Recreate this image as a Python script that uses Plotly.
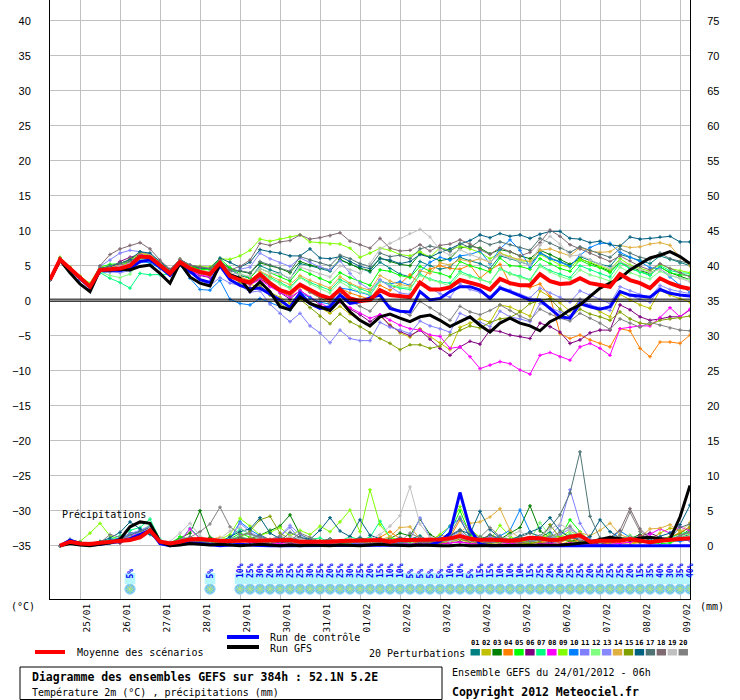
import plotly.graph_objects as go

# 6-hourly steps from 24/01 06h to 09/02 06h
hours = list(range(0, 385, 6))
day_hours = [18, 42, 66, 90, 114, 138, 162, 186, 210, 234, 258, 282, 306, 330, 354, 378]
day_labels = ['25/01', '26/01', '27/01', '28/01', '29/01', '30/01', '31/01', '01/02',
              '02/02', '03/02', '04/02', '05/02', '06/02', '07/02', '08/02', '09/02']

# temperature 2m (degC)
mean_t = [3.0, 5.9, 4.6, 3.3, 2.0, 4.4, 4.5, 4.6, 5.0, 6.3, 6.2, 5.1, 3.9, 5.5, 4.6, 4.1, 3.8, 5.4, 3.5,
          2.95, 2.6, 3.8, 2.5, 1.5, 1.05, 2.3, 1.5, 0.8, 0.33, 1.6, 0.33, -0.05, 0.1, 1.5, 0.8, 0.67, 0.5,
          2.6, 1.6, 1.6, 1.9, 2.95, 2.6, 2.2, 1.6, 3.1, 2.5, 2.2, 2.2, 3.8, 2.8, 2.4, 2.5, 3.2, 2.5, 2.2,
          2.0, 3.8, 2.95, 2.5, 1.8, 3.2, 2.5, 2.0, 1.7]
ctrl_t = [3.0, 5.8, 4.5, 3.2, 1.9, 4.3, 4.4, 4.3, 4.6, 5.6, 5.8, 4.8, 3.6, 5.2, 4.2, 3.0, 2.6, 5.0, 3.0,
          2.2, 1.7, 1.8, 1.0, 0.1, -0.95, 1.1, -0.4, -1.1, -0.86, 0.8, -0.4, -0.15, 0.4, 0.8, -1.1, -1.5,
          -1.6, 1.3, 0.1, 0.33, 1.3, 2.0, 2.0, 1.5, 0.33, 1.8, 1.3, 0.67, 0.1, 0.1, -1.1, -2.3, -2.5, -0.4,
          -0.86, -1.2, -0.86, 1.3, 0.8, 0.67, 0.5, 1.6, 1.05, 0.8, 0.67]
gfs_t = [3.0, 5.8, 4.0, 2.4, 1.3, 4.4, 4.4, 4.5, 4.4, 4.9, 5.1, 3.9, 2.5, 5.4, 3.4, 2.5, 2.1, 5.3, 3.7,
         3.2, 1.3, 2.7, 1.3, -0.86, -1.3, 0.57, -0.4, -0.95, -1.4, 0.1, -1.6, -2.8, -3.6, -2.3, -1.9, -2.5,
         -3.0, -2.3, -2.05, -2.8, -3.7, -3.0, -2.3, -3.5, -4.5, -3.2, -2.5, -3.2, -3.6, -4.3, -3.0, -2.3,
         -1.3, -0.6, 0.57, 1.8, 2.5, 3.2, 4.4, 5.3, 6.1, 6.5, 7.0, 6.3, 5.3]

t01 = [3.0, 6.0, 4.7, 3.4, 2.1, 4.5, 4.8, 5.0, 5.6, 6.6, 6.3, 5.0, 4.0, 5.6, 4.8, 4.3, 4.0, 5.5, 4.5,
       3.6, 3.2, 5.0, 4.4, 3.9, 3.1, 5.3, 5.0, 4.6, 4.2, 5.8, 5.2, 4.7, 4.1, 5.5, 4.6, 3.8, 3.4, 5.6, 5.0,
       4.5, 4.8, 6.2, 5.7, 5.3, 4.6, 6.4, 6.0, 5.5, 5.1, 6.9, 6.1, 5.6, 5.0, 6.3, 5.8, 5.2, 4.9, 6.6, 6.2,
       5.8, 5.3, 6.4, 5.9, 5.4, 5.0]
t02 = [3.0, 5.8, 4.5, 3.2, 1.9, 4.2, 4.4, 4.8, 5.3, 6.8, 6.5, 5.3, 4.1, 5.8, 4.9, 4.4, 4.1, 5.9, 4.0,
       3.0, 2.4, 1.9, 1.2, 0.5, -0.4, 0.6, -0.3, -1.0, -1.8, -0.8, -1.9, -2.8, -3.6, -2.2, -3.4, -4.6,
       -5.2, -4.0, -5.1, -6.0, -7.0, -3.8, -3.2, -2.6, -3.1, -0.6, -0.9, -1.5, -2.2, 1.4, 0.6, -0.3, -1.5,
       0.2, -0.8, -1.6, -2.3, 0.9, 0.1, -0.6, -1.1, 1.5, 0.8, 0.3, -0.2]
t03 = [3.0, 5.9, 4.6, 3.3, 2.2, 4.6, 4.9, 5.4, 5.8, 6.9, 6.6, 5.5, 4.4, 5.7, 5.0, 4.6, 4.5, 5.6, 4.6,
       4.2, 3.9, 5.4, 5.0, 4.6, 4.0, 5.6, 5.1, 4.7, 4.4, 5.9, 5.3, 4.6, 4.3, 6.1, 5.6, 5.2, 5.0, 6.7, 6.3,
       5.7, 6.0, 7.5, 7.8, 7.5, 6.7, 7.3, 7.0, 6.4, 6.0, 7.2, 6.6, 5.9, 5.2, 6.0, 5.4, 4.8, 4.2, 5.5, 4.9,
       4.3, 3.9, 4.8, 4.0, 3.5, 3.0]
t04 = [3.0, 6.1, 4.8, 3.5, 2.3, 4.5, 4.2, 4.4, 5.1, 6.5, 6.4, 5.2, 4.2, 5.9, 4.7, 4.0, 3.7, 5.2, 3.6,
       2.7, 2.3, 3.1, 2.2, 1.4, 0.6, 2.0, 1.2, 0.4, -0.2, 1.8, 1.1, 0.6, 0.2, 2.2, 1.5, 2.4, 3.7, 2.4, 4.5,
       5.0, 4.6, 4.5, 5.1, 3.2, 4.4, 5.2, 2.4, 2.2, 1.9, 2.4, 0.6, -4.7, -5.4, -4.9, -5.6, -6.1, -6.6,
       -4.0, -4.3, -6.8, -8.0, -5.9, -5.9, -6.1, -4.9]
t05 = [3.0, 6.0, 4.6, 3.3, 2.0, 4.8, 5.2, 5.3, 5.5, 6.1, 5.9, 5.0, 4.1, 5.6, 4.9, 4.5, 4.4, 6.0, 4.7,
       3.8, 3.3, 4.6, 4.0, 3.5, 2.8, 4.5, 3.8, 3.2, 2.6, 4.0, 3.3, 2.7, 2.2, 4.4, 4.2, 3.6, 3.3, 4.9, 4.2,
       3.9, 3.4, 5.6, 5.0, 4.6, 4.1, 6.1, 5.0, 4.9, 4.5, 6.0, 5.3, 4.6, 4.2, 5.8, 5.1, 4.7, 4.0, 5.5, 4.6,
       4.1, 3.7, 4.8, 4.0, 3.7, 3.6]
t06 = [3.0, 5.9, 4.5, 3.1, 1.8, 4.4, 4.6, 5.6, 6.2, 6.6, 6.1, 5.0, 3.8, 5.3, 4.3, 3.6, 3.3, 5.3, 3.4,
       3.0, 2.4, 3.2, 2.2, 1.1, 0.2, 1.5, 0.4, -0.6, -1.4, 0.1, -1.2, -2.0, -3.0, -2.0, -3.6, -4.4, -5.0,
       -4.2, -5.5, -6.8, -7.8, -6.6, -5.8, -6.2, -4.2, -4.4, -4.9, -5.1, -5.4, -3.2, -3.7, -4.5, -6.1,
       -5.6, -4.6, -4.2, -4.2, -0.6, -1.3, -2.3, -2.8, -2.6, -2.3, -2.3, -1.3]
t07 = [3.0, 5.8, 4.6, 3.2, 2.1, 4.0, 3.2, 2.6, 1.8, 3.9, 3.7, 3.7, 3.8, 5.3, 4.4, 4.1, 3.9, 5.0, 3.2,
       3.1, 2.8, 4.1, 3.3, 2.6, 1.9, 3.4, 2.6, 2.0, 1.5, 3.0, 2.3, 1.7, 1.2, 2.9, 2.2, 1.8, 1.6, 3.8, 3.1,
       2.7, 2.5, 4.2, 3.6, 3.1, 2.6, 4.6, 3.9, 3.5, 3.0, 5.1, 4.3, 3.8, 3.3, 5.0, 4.4, 3.9, 3.4, 5.4, 4.6,
       4.1, 3.6, 5.0, 4.3, 4.0, 3.9]
t08 = [3.0, 6.0, 4.7, 3.4, 2.0, 4.3, 4.5, 5.0, 5.4, 6.6, 6.3, 5.2, 4.0, 5.5, 4.2, 3.7, 3.4, 5.5, 3.4,
       2.8, 2.3, 3.0, 2.0, 1.2, 0.5, 1.4, 0.5, -0.3, -1.1, -0.2, -1.0, -1.8, -2.5, -2.0, -2.8, -3.5, -4.0,
       -4.2, -4.9, -5.1, -6.8, -6.6, -8.0, -9.7, -9.2, -8.7, -9.0, -9.9, -10.5, -7.8, -7.4, -8.0, -8.5,
       -6.6, -6.1, -6.8, -7.8, -4.0, -3.8, -3.6, -3.6, -2.4, -1.0, -2.3, -1.2]
t09 = [3.0, 6.2, 4.8, 3.5, 2.5, 4.9, 4.6, 4.8, 5.7, 6.9, 6.4, 5.3, 4.2, 5.9, 5.0, 4.9, 4.8, 6.0, 5.9,
       6.4, 7.2, 8.8, 8.5, 8.8, 9.1, 9.4, 8.4, 8.3, 8.1, 8.1, 7.5, 6.2, 6.8, 7.5, 7.2, 6.6, 6.4, 7.0, 6.2,
       7.6, 7.2, 7.8, 7.4, 6.9, 6.0, 6.8, 6.3, 5.7, 5.6, 6.6, 5.9, 5.1, 4.8, 5.9, 5.5, 4.9, 4.4, 6.0, 5.1,
       4.6, 4.2, 5.2, 4.6, 4.3, 4.0]
t10 = [3.0, 5.7, 4.3, 3.0, 1.7, 4.0, 4.1, 4.2, 4.4, 5.6, 5.4, 4.6, 3.8, 5.1, 3.2, 1.6, 1.5, 2.9, 0.2,
       -0.4, -0.6, 0.3, -0.3, -0.9, -1.4, 1.2, 0.4, -0.2, -0.5, 1.8, 1.6, 1.2, 0.8, 2.8, 2.4, 2.7, 2.2,
       4.2, 5.5, 6.2, 5.8, 6.4, 6.6, 7.1, 5.3, 7.4, 8.7, 7.2, 4.8, 6.8, 6.0, 5.5, 4.9, 6.5, 7.6, 8.2, 8.2,
       6.9, 6.2, 5.6, 4.7, 4.6, 3.4, 2.2, 1.2]
t11 = [3.0, 6.0, 4.6, 3.3, 2.1, 4.9, 5.8, 6.8, 7.2, 7.0, 6.6, 5.4, 4.2, 5.7, 4.0, 3.0, 2.2, 3.3, 2.5,
       2.2, 1.2, 1.4, -0.5, -1.8, -3.0, -1.8, -3.6, -4.6, -6.0, -4.2, -5.4, -5.7, -5.7, -3.1, -3.8, -4.2,
       -4.7, -2.9, -3.6, -4.0, -4.5, -1.8, -2.4, -3.1, -3.7, -1.5, -2.3, -2.6, -3.0, -0.4, -1.0, -1.6,
       -2.2, 0.2, -0.6, -1.0, -1.4, 1.3, 0.7, 0.2, -0.2, 1.8, 1.2, 0.8, 0.6]
t12 = [3.0, 5.9, 4.5, 3.2, 2.0, 4.1, 3.6, 3.3, 3.8, 5.9, 6.0, 5.0, 3.9, 5.4, 4.5, 4.2, 4.0, 5.4, 3.8,
       3.3, 2.8, 3.9, 3.1, 2.4, 1.7, 3.3, 2.4, 1.8, 1.1, 2.7, 1.9, 1.3, 0.9, 2.8, 2.3, 2.0, 1.8, 3.6, 3.0,
       2.6, 2.1, 3.9, 3.4, 3.0, 2.6, 4.5, 3.8, 3.3, 2.9, 4.9, 4.1, 3.5, 3.0, 4.4, 3.7, 3.3, 2.8, 4.8, 4.0,
       3.5, 3.1, 4.2, 3.6, 3.2, 3.0]
t13 = [3.0, 5.8, 4.4, 3.1, 1.8, 4.2, 4.1, 4.0, 4.3, 5.5, 5.8, 4.9, 3.6, 5.2, 4.4, 3.9, 3.6, 5.1, 3.3,
       4.5, 4.8, 6.8, 6.0, 5.4, 4.9, 6.1, 5.5, 4.8, 4.4, 5.7, 3.9, 2.5, 1.6, 3.0, 2.0, 1.1, 0.9, 2.4, 1.8,
       1.0, 0.5, 2.4, 1.6, 1.2, 0.6, 2.0, 1.5, 0.9, 0.4, 1.8, 1.1, 0.5, -0.2, 1.4, 0.8, 0.2, -0.4, 2.0,
       1.4, 0.9, 0.5, 2.2, 1.6, 1.3, 1.0]
t14 = [3.0, 6.0, 4.6, 3.3, 2.0, 4.5, 4.7, 5.2, 6.0, 6.8, 6.6, 5.5, 4.3, 5.8, 4.8, 4.2, 3.9, 5.6, 3.7,
       3.4, 2.9, 4.2, 3.5, 2.9, 2.3, 3.6, 2.9, 2.3, 1.8, 3.4, 2.5, 1.9, 1.5, 3.6, 2.8, 2.3, 2.1, 4.3, 3.9,
       5.4, 5.1, 5.9, 5.6, 6.0, 5.5, 6.8, 6.2, 5.9, 5.6, 7.2, 7.4, 6.9, 6.4, 7.6, 7.1, 6.9, 7.0, 7.9, 7.6,
       7.7, 8.1, 8.3, 7.9, 6.2, 5.0]
t15 = [3.0, 5.9, 4.6, 3.2, 1.9, 4.3, 4.3, 4.6, 5.2, 6.4, 6.2, 5.1, 3.9, 5.5, 4.5, 3.9, 3.6, 5.2, 3.5,
       2.6, 1.8, 2.2, 0.8, -0.4, -1.3, 0.2, -1.0, -2.2, -3.3, -1.9, -3.0, -3.7, -4.6, -5.4, -6.1, -7.0,
       -6.3, -6.3, -6.8, -6.5, -4.9, -4.2, -3.6, -3.9, -3.1, -2.6, -2.4, -1.6, -0.4, 0.0, 0.3, -1.2, -2.4,
       -1.2, -1.9, -2.3, -2.8, -1.6, -2.6, -3.2, -3.4, -2.8, -2.6, -2.5, -2.2]
t16 = [3.0, 6.0, 4.7, 3.3, 2.0, 4.6, 4.9, 5.3, 5.9, 7.0, 6.8, 5.6, 4.4, 5.9, 5.1, 4.7, 4.6, 6.1, 5.5,
       4.8, 5.5, 7.3, 7.0, 6.8, 6.4, 6.4, 7.4, 6.1, 6.0, 6.3, 5.6, 4.9, 4.6, 6.0, 5.8, 5.3, 5.6, 6.6, 6.2,
       6.9, 7.4, 8.1, 8.6, 9.4, 9.0, 9.6, 9.2, 9.4, 8.9, 9.5, 9.9, 9.9, 8.9, 8.8, 8.3, 8.5, 8.0, 7.8, 9.1,
       8.8, 8.9, 9.1, 9.2, 8.4, 8.4]
t17 = [3.0, 6.0, 4.6, 3.3, 2.0, 4.5, 5.0, 5.4, 5.6, 6.5, 6.2, 5.2, 4.0, 5.6, 4.6, 4.1, 3.9, 5.4, 4.2,
       4.3, 4.0, 5.6, 5.1, 4.6, 4.2, 6.3, 5.8, 5.4, 5.0, 6.5, 6.0, 5.3, 4.9, 6.8, 6.3, 6.5, 6.0, 7.4, 7.8,
       7.5, 7.0, 8.2, 7.6, 8.6, 8.0, 8.4, 8.0, 7.6, 7.2, 8.9, 8.2, 7.5, 6.9, 7.7, 7.2, 6.6, 6.2, 7.4, 6.8,
       6.2, 5.9, 6.8, 6.0, 5.6, 5.3]
t18 = [3.0, 6.1, 4.7, 3.4, 2.2, 5.0, 6.6, 7.4, 7.9, 8.3, 7.4, 5.8, 4.5, 5.9, 5.1, 4.8, 4.6, 5.7, 4.4,
       4.9, 5.8, 8.2, 7.9, 8.4, 8.6, 9.4, 8.8, 9.0, 9.3, 9.7, 8.5, 8.0, 7.5, 8.9, 7.5, 7.1, 7.2, 8.0, 7.1,
       7.9, 8.1, 8.7, 8.1, 7.3, 6.6, 7.6, 7.0, 6.4, 6.9, 8.3, 10.1, 9.2, 8.0, 7.4, 6.8, 6.2, 5.6, 6.4,
       5.7, 4.9, 4.4, 5.3, 4.6, 4.0, 3.4]
t19 = [3.0, 5.9, 4.5, 3.2, 1.9, 4.4, 4.6, 4.9, 5.3, 6.4, 6.4, 5.3, 4.0, 5.6, 4.7, 4.3, 4.1, 5.6, 4.0,
       3.8, 3.5, 4.6, 4.0, 3.8, 3.2, 4.8, 4.3, 3.8, 3.4, 5.0, 4.4, 3.9, 5.3, 7.4, 8.2, 8.9, 9.6, 10.2,
       9.1, 7.2, 6.5, 7.3, 6.6, 6.1, 5.6, 6.6, 6.1, 5.6, 5.1, 7.9, 9.2, 8.1, 6.4, 6.5, 5.8, 5.2, 4.6, 5.6,
       4.9, 4.4, 4.0, 4.5, 3.7, 3.2, 2.7]
t20 = [3.0, 5.8, 4.5, 3.2, 1.9, 4.2, 4.3, 4.5, 5.0, 6.2, 6.3, 5.4, 4.2, 5.8, 4.6, 4.2, 3.9, 5.6, 3.7,
       2.9, 2.4, 3.3, 2.4, 1.6, 0.8, 2.2, 1.2, 0.4, -0.4, 1.0, 0.0, -0.8, -1.5, 0.2, -0.8, -1.5, -2.1,
       -0.1, -1.0, -1.9, -2.8, -0.8, -1.6, -2.0, -1.4, -0.6, -1.4, -2.2, -2.8, -1.2, -1.9, -2.5, -2.9,
       -1.8, -2.5, -3.2, -4.1, -2.6, -3.2, -3.8, -3.1, -3.5, -3.9, -4.2, -4.3]

# precipitation (mm per 6h), from the 06h step onwards
mean_p = [0.0, 0.57, 0.33, 0.24, 0.43, 0.57, 0.57, 0.8, 1.2, 2.2, 0.57, 0.33, 0.57, 0.9, 0.95, 0.8,
          0.71, 0.67, 0.71, 0.71, 0.8, 0.8, 0.9, 0.8, 0.57, 0.57, 0.48, 0.57, 0.67, 0.67, 0.71, 0.67,
          0.81, 0.57, 0.81, 0.8, 0.8, 0.8, 0.9, 1.05, 1.38, 1.0, 0.81, 0.9, 0.81, 0.71, 0.81, 1.14,
          1.05, 0.81, 0.9, 1.29, 1.48, 0.57, 0.71, 0.71, 0.71, 0.95, 0.71, 0.48, 0.71, 0.9, 0.95, 1.05]
ctrl_p = [0.0, 0.8, 0.3, 0.1, 0.2, 0.4, 0.6, 1.0, 1.6, 2.2, 0.3, 0.0, 0.2, 0.4, 0.3, 0.1,
          0.0, 0.1, 0.2, 0.1, 0.0, 0.0, 0.0, 0.0, 0.0, 0.0, 0.0, 0.0, 0.0, 0.0, 0.0, 0.0,
          0.0, 0.0, 0.0, 0.0, 0.0, 0.1, 0.6, 1.8, 7.6, 2.4, 0.2, 0.0, 0.0, 0.0, 0.0, 0.0,
          0.0, 0.0, 0.0, 0.0, 0.0, 0.0, 0.0, 0.0, 0.0, 0.0, 0.0, 0.0, 0.0, 0.0, 0.0, 0.0]
gfs_p = [0.0, 0.3, 0.1, 0.0, 0.2, 0.4, 0.9, 2.7, 3.4, 3.2, 0.6, 0.0, 0.1, 0.3, 0.2, 0.1,
         0.2, 0.1, 0.0, 0.1, 0.2, 0.1, 0.0, 0.1, 0.0, 0.1, 0.0, 0.0, 0.1, 0.0, 0.0, 0.1,
         0.2, 0.1, 0.0, 0.0, 0.1, 0.0, 0.0, 0.0, 0.1, 0.0, 0.0, 0.0, 0.0, 0.0, 0.0, 0.0,
         0.0, 0.0, 0.1, 0.2, 0.3, 0.5, 0.9, 1.2, 1.0, 0.8, 1.1, 1.2, 1.0, 0.9, 4.1, 8.6]

p01 = [0.0, 0.6, 0.2, 0.1, 0.3, 0.6, 0.9, 1.8, 2.0, 2.6, 0.4, 0.1, 0.4, 1.2, 0.8, 0.5,
       0.3, 0.6, 1.5, 1.8, 0.9, 0.5, 0.8, 1.1, 0.4, 0.3, 0.6, 1.0, 0.5, 0.7, 1.2, 0.6,
       0.8, 0.3, 0.5, 0.9, 1.4, 0.6, 0.3, 0.8, 1.6, 0.7, 1.3, 0.9, 0.4, 0.6, 1.1, 0.8,
       1.2, 1.9, 0.6, 1.0, 1.7, 0.5, 0.6, 0.4, 0.8, 1.1, 0.7, 0.3, 0.5, 0.8, 1.2, 1.6]
p02 = [0.0, 0.4, 0.3, 0.2, 0.2, 0.5, 0.4, 0.9, 1.4, 2.1, 0.6, 0.2, 0.3, 0.6, 0.4, 0.3,
       0.2, 0.4, 0.6, 1.2, 0.7, 0.4, 0.6, 0.3, 0.2, 0.1, 0.4, 0.3, 0.2, 0.5, 0.3, 0.2,
       0.4, 0.2, 0.1, 0.3, 0.6, 0.4, 0.3, 0.5, 0.9, 0.4, 0.3, 0.5, 0.8, 0.3, 0.2, 0.4,
       0.5, 0.3, 0.2, 0.6, 0.8, 0.3, 0.2, 0.4, 0.3, 0.2, 0.5, 0.9, 1.8, 2.5, 2.2, 1.6]
p03 = [0.0, 0.5, 0.3, 0.2, 0.4, 0.7, 0.5, 1.2, 1.6, 2.3, 0.5, 0.4, 1.1, 1.8, 5.0, 1.2,
       0.8, 0.5, 1.1, 0.9, 1.5, 2.2, 2.8, 4.4, 1.6, 0.9, 0.6, 0.4, 0.7, 0.5, 0.9, 0.6,
       0.8, 1.0, 1.8, 1.4, 3.8, 1.6, 0.8, 0.6, 1.2, 0.9, 0.7, 1.5, 0.9, 1.8, 2.6, 5.7,
       2.1, 1.2, 0.9, 0.6, 1.0, 0.5, 0.8, 0.6, 0.7, 1.0, 1.6, 0.6, 0.5, 0.9, 1.3, 2.4]
p04 = [0.0, 0.5, 0.2, 0.1, 0.3, 0.5, 0.6, 0.9, 1.3, 2.5, 0.6, 0.3, 0.8, 1.0, 1.2, 0.6,
       0.4, 0.7, 0.9, 0.6, 0.8, 0.5, 0.3, 0.6, 0.3, 0.2, 0.4, 0.6, 0.3, 0.5, 0.8, 0.4,
       1.2, 2.0, 1.0, 0.6, 0.4, 0.7, 1.5, 1.2, 3.7, 1.4, 0.8, 0.5, 0.3, 0.6, 0.4, 0.3,
       0.5, 0.8, 0.4, 1.1, 0.6, 0.3, 0.4, 0.2, 0.3, 0.5, 0.4, 0.6, 0.8, 1.2, 1.9, 2.6]
p05 = [0.0, 0.4, 0.2, 0.1, 0.5, 0.4, 0.7, 1.0, 1.5, 2.2, 0.4, 0.2, 1.3, 0.9, 0.7, 0.5,
       0.6, 0.9, 1.8, 1.2, 0.8, 0.6, 0.5, 0.7, 0.9, 0.4, 0.5, 0.3, 0.6, 0.8, 0.5, 0.4,
       0.6, 0.4, 0.9, 0.7, 1.0, 0.5, 0.8, 1.9, 5.0, 1.6, 0.8, 0.6, 1.2, 0.9, 0.6, 0.5,
       0.8, 1.5, 1.2, 3.7, 2.0, 0.6, 0.4, 0.5, 0.6, 0.8, 1.0, 0.5, 0.3, 0.4, 0.9, 1.5]
p06 = [0.0, 0.5, 0.2, 0.1, 0.3, 0.6, 0.4, 1.1, 1.7, 2.1, 0.5, 0.2, 0.4, 0.9, 0.6, 0.4,
       0.3, 0.5, 0.7, 0.5, 0.4, 0.3, 0.5, 0.4, 0.2, 0.3, 0.2, 0.1, 0.3, 0.2, 0.4, 0.3,
       0.2, 0.1, 0.3, 0.2, 0.4, 0.3, 0.2, 0.4, 0.6, 0.3, 0.2, 0.4, 0.5, 0.3, 0.2, 0.1,
       0.3, 0.4, 0.6, 1.2, 0.9, 0.4, 0.3, 0.5, 0.6, 0.9, 1.4, 1.8, 1.2, 0.8, 1.0, 0.7]
p07 = [0.0, 0.6, 0.3, 0.2, 0.6, 0.9, 1.4, 2.2, 2.6, 3.8, 0.9, 0.3, 0.6, 2.5, 1.1, 0.6,
       0.5, 1.2, 2.4, 1.6, 0.9, 0.7, 1.2, 0.8, 0.6, 0.9, 1.1, 0.5, 0.6, 1.3, 0.8, 1.2,
       3.5, 1.2, 0.6, 0.8, 0.5, 1.0, 0.7, 0.9, 1.4, 0.8, 0.6, 1.1, 0.7, 0.9, 1.3, 0.8,
       0.9, 0.6, 1.1, 1.6, 0.8, 0.5, 0.7, 0.6, 0.9, 1.3, 0.7, 0.5, 0.8, 1.1, 1.7, 2.0]
p08 = [0.0, 0.4, 0.2, 0.1, 0.3, 0.5, 0.8, 1.3, 1.9, 2.4, 0.5, 0.2, 0.6, 2.4, 1.0, 0.5,
       0.4, 0.6, 0.8, 0.5, 0.6, 0.4, 0.3, 0.2, 0.3, 0.2, 0.4, 0.3, 0.2, 0.1, 0.3, 0.2,
       0.1, 0.2, 0.3, 0.2, 0.1, 0.2, 0.3, 0.4, 0.5, 0.3, 0.2, 0.1, 0.2, 0.3, 0.2, 0.1,
       0.2, 0.3, 0.2, 0.4, 0.3, 0.2, 0.1, 0.2, 0.3, 0.5, 0.9, 1.6, 2.4, 1.8, 2.7, 2.1]
p09 = [0.0, 0.5, 0.6, 1.8, 3.2, 1.4, 0.8, 1.0, 1.2, 2.0, 0.6, 0.3, 0.5, 0.8, 0.6, 0.7,
       0.9, 1.6, 3.9, 2.8, 1.5, 1.9, 2.6, 1.4, 2.2, 1.6, 2.8, 2.0, 3.4, 5.1, 2.0, 8.0,
       3.0, 1.2, 0.8, 0.6, 1.0, 0.7, 1.6, 2.8, 5.6, 2.4, 1.2, 0.8, 2.9, 1.3, 0.7, 0.5,
       1.0, 1.6, 1.2, 2.1, 1.4, 0.6, 0.4, 0.5, 0.7, 0.8, 0.6, 0.4, 0.5, 0.7, 0.9, 1.4]
p10 = [0.0, 0.7, 0.4, 0.2, 0.3, 0.8, 1.1, 1.6, 1.9, 2.8, 0.4, 0.2, 0.6, 0.8, 0.5, 0.3,
       0.4, 0.9, 3.4, 2.3, 1.4, 0.8, 0.6, 0.9, 0.5, 0.4, 0.6, 0.8, 0.4, 0.3, 0.5, 0.6,
       0.8, 0.5, 0.4, 0.7, 0.6, 0.9, 1.2, 2.8, 3.9, 1.1, 0.6, 0.8, 1.4, 2.2, 5.1, 2.0,
       1.1, 0.7, 0.8, 1.3, 0.9, 0.5, 0.7, 1.0, 2.1, 1.2, 0.6, 0.4, 0.5, 0.8, 0.6, 0.9]
p11 = [0.0, 0.5, 0.3, 0.1, 0.4, 0.6, 0.9, 1.4, 2.1, 2.9, 0.6, 0.3, 0.5, 1.1, 0.7, 0.4,
       0.6, 1.0, 1.3, 0.8, 0.5, 0.4, 1.3, 2.6, 0.9, 0.4, 0.3, 0.5, 0.4, 0.2, 0.3, 0.5,
       0.4, 0.3, 0.6, 0.8, 1.1, 0.6, 0.9, 1.3, 2.0, 0.8, 0.6, 0.5, 0.4, 0.7, 0.9, 0.6,
       0.8, 1.4, 2.9, 8.0, 3.2, 0.9, 0.6, 0.5, 0.7, 0.9, 0.5, 0.4, 0.6, 0.8, 1.0, 1.3]
p12 = [0.0, 0.4, 0.2, 0.2, 0.4, 0.5, 0.7, 1.1, 1.8, 3.1, 0.6, 0.3, 0.4, 0.7, 0.5, 0.4,
       0.5, 0.7, 1.4, 0.9, 0.6, 0.5, 0.8, 0.6, 0.4, 0.5, 0.7, 0.4, 0.6, 0.8, 0.5, 0.4,
       0.6, 0.5, 0.7, 0.4, 0.8, 1.0, 0.6, 0.8, 1.3, 0.7, 0.5, 0.9, 0.6, 0.8, 1.2, 0.7,
       3.3, 1.4, 0.9, 1.8, 1.1, 0.7, 0.5, 0.6, 0.9, 1.5, 0.8, 0.6, 0.7, 0.9, 1.2, 1.8]
p13 = [0.0, 0.5, 0.3, 0.2, 0.3, 0.6, 0.9, 1.7, 2.2, 2.7, 0.5, 0.2, 0.5, 0.9, 0.6, 0.3,
       0.4, 0.8, 3.2, 2.0, 1.1, 0.7, 1.4, 2.9, 1.6, 0.8, 0.5, 0.4, 0.7, 0.5, 0.6, 0.4,
       0.7, 0.6, 1.1, 0.8, 4.0, 1.2, 0.7, 0.9, 1.6, 0.9, 0.7, 1.3, 0.8, 0.6, 1.0, 0.7,
       0.9, 1.1, 1.6, 2.4, 1.5, 0.7, 0.5, 0.6, 0.8, 1.0, 0.6, 0.5, 0.7, 0.9, 1.1, 0.8]
p14 = [0.0, 0.5, 0.3, 0.2, 0.4, 0.5, 0.8, 1.2, 1.6, 2.4, 0.5, 0.3, 0.4, 0.7, 0.5, 0.9,
       1.2, 0.8, 0.6, 1.1, 0.7, 0.5, 0.9, 0.6, 0.5, 0.8, 0.6, 0.4, 0.6, 0.9, 0.7, 0.5,
       0.8, 1.3, 2.6, 2.7, 1.0, 0.6, 0.8, 1.1, 1.8, 3.2, 3.4, 4.1, 5.3, 2.2, 1.0, 0.8,
       1.2, 0.9, 0.7, 1.1, 1.9, 1.4, 2.2, 3.2, 1.6, 1.0, 1.2, 2.4, 2.5, 3.0, 1.9, 3.3]
p15 = [0.0, 0.4, 0.2, 0.1, 0.3, 0.5, 0.6, 1.0, 1.5, 2.2, 0.4, 0.2, 0.4, 0.8, 0.6, 0.4,
       0.5, 0.9, 1.2, 2.1, 3.7, 4.2, 1.8, 0.9, 0.6, 0.4, 0.7, 0.5, 0.3, 0.4, 0.6, 0.3,
       0.5, 0.4, 0.3, 0.6, 0.8, 0.5, 0.4, 0.7, 0.9, 0.6, 0.4, 0.3, 0.5, 0.7, 0.4, 0.3,
       0.6, 3.0, 1.1, 0.7, 0.5, 0.4, 0.6, 0.5, 1.2, 0.8, 0.5, 0.7, 0.9, 1.3, 1.7, 2.8]
p16 = [0.0, 0.9, 0.5, 0.3, 0.6, 1.1, 1.9, 3.4, 2.4, 1.6, 0.5, 0.2, 0.7, 1.2, 0.8, 0.6,
       0.5, 1.3, 2.0, 2.4, 4.0, 1.8, 1.0, 0.8, 1.2, 0.9, 2.2, 4.0, 2.1, 1.3, 3.7, 1.5,
       1.0, 0.7, 0.6, 0.9, 0.8, 0.6, 0.9, 1.4, 2.2, 1.7, 4.9, 2.3, 1.1, 0.8, 1.4, 1.9,
       2.5, 4.0, 2.1, 1.2, 0.9, 1.3, 3.7, 2.0, 1.1, 0.8, 0.6, 0.9, 1.3, 1.8, 3.0, 5.8]
p17 = [0.0, 0.5, 0.3, 0.2, 0.4, 0.6, 0.9, 1.5, 2.0, 2.6, 0.6, 0.3, 0.5, 0.9, 0.7, 0.5,
       0.6, 0.8, 1.2, 0.9, 1.6, 0.8, 0.6, 1.9, 1.2, 0.7, 0.6, 0.9, 0.5, 0.7, 1.0, 0.8,
       0.9, 0.6, 1.2, 0.8, 0.7, 1.1, 0.8, 1.5, 2.3, 1.1, 0.8, 1.6, 1.0, 0.7, 1.2, 1.8,
       1.4, 2.6, 4.4, 7.5, 13.4, 4.2, 1.1, 0.8, 0.9, 1.3, 0.9, 0.6, 0.8, 1.1, 2.6, 3.1]
p18 = [0.0, 0.4, 0.3, 0.1, 0.3, 0.5, 0.7, 1.0, 1.4, 2.2, 0.5, 0.2, 0.4, 0.6, 0.5, 0.3,
       0.4, 0.6, 0.9, 0.7, 0.5, 0.4, 0.6, 0.5, 0.3, 0.4, 0.5, 0.3, 0.4, 0.6, 0.4, 0.3,
       0.5, 0.4, 0.3, 0.6, 0.5, 0.4, 0.6, 0.8, 1.1, 0.6, 0.4, 0.5, 0.7, 0.5, 0.4, 0.6,
       0.8, 0.6, 0.9, 1.4, 0.8, 0.6, 0.7, 1.2, 2.2, 5.3, 2.4, 1.1, 0.8, 0.9, 1.4, 2.0]
p19 = [0.0, 0.5, 0.3, 0.2, 0.3, 0.5, 0.8, 1.2, 1.7, 2.5, 0.8, 0.6, 1.8, 3.2, 1.4, 0.7,
       1.0, 2.1, 2.6, 1.6, 0.9, 0.6, 0.8, 1.3, 0.9, 0.6, 0.5, 0.8, 0.6, 1.0, 0.7, 0.9,
       1.6, 2.8, 4.3, 8.4, 3.1, 1.2, 0.8, 0.6, 1.1, 0.8, 0.6, 0.9, 0.7, 1.5, 2.1, 1.0,
       1.3, 2.4, 3.1, 2.2, 1.0, 0.6, 0.8, 0.7, 0.9, 1.2, 0.8, 0.6, 0.5, 0.8, 1.1, 1.4]
p20 = [0.0, 0.6, 0.3, 0.2, 0.4, 1.6, 1.2, 1.0, 1.3, 2.3, 0.7, 0.4, 0.9, 1.2, 2.0, 3.1,
       5.5, 2.7, 1.6, 1.7, 1.2, 0.9, 1.4, 0.7, 1.8, 1.2, 0.6, 0.9, 0.7, 0.5, 0.8, 0.6,
       0.7, 0.9, 0.6, 1.8, 1.1, 0.7, 0.9, 1.6, 4.1, 1.9, 1.2, 2.6, 1.3, 0.8, 1.1, 0.7,
       1.0, 1.3, 1.9, 2.8, 1.2, 0.6, 0.9, 0.8, 1.5, 4.8, 2.0, 1.1, 0.7, 0.8, 1.4, 1.9]

# snow probability (%)
snow_hours = [48, 96, 114, 120, 126, 132, 138, 144, 150, 156, 162, 168, 174, 180, 186, 192, 198,
              204, 210, 216, 222, 228, 234, 240, 246, 252, 258, 264, 270, 276, 282, 288, 294, 300,
              306, 312, 318, 324, 330, 336, 342, 348, 354, 360, 366, 372, 378, 384]
snow_pct = [5, 5, 10, 25, 30, 20, 35, 25, 25, 30, 25, 20, 25, 30, 25, 20, 15, 10, 10, 5, 5, 5, 5,
            10, 10, 5, 15, 15, 10, 10, 10, 15, 25, 20, 20, 25, 25, 20, 25, 25, 25, 20, 15, 35, 40,
            30, 35, 40]

pert_names = ['01', '02', '03', '04', '05', '06', '07', '08', '09', '10',
              '11', '12', '13', '14', '15', '16', '17', '18', '19', '20']
pert_colors = ['#008080', '#c0c000', '#008000', '#ff8000', '#00ff00', '#800080', '#00ff80',
               '#ff00ff', '#80ff00', '#0080ff', '#8080ff', '#80ff80', '#8888ff', '#e0b040',
               '#80a000', '#006080', '#507474', '#806a72', '#c0c0c0', '#808080']
pert_t = [t01, t02, t03, t04, t05, t06, t07, t08, t09, t10,
          t11, t12, t13, t14, t15, t16, t17, t18, t19, t20]
pert_p = [p01, p02, p03, p04, p05, p06, p07, p08, p09, p10,
          p11, p12, p13, p14, p15, p16, p17, p18, p19, p20]

MONO = 'DejaVu Sans Mono'


def px(x):
    # pixel column -> paper x
    return (x - 50) / 640


def py(y):
    # pixel row -> paper y
    return 1 - y / 599


def t_at(y):
    # pixel row -> temperature value
    return 40 - (y - 20.7) / 7


fig = go.Figure()

for name, col, tt in zip(pert_names, pert_colors, pert_t):
    fig.add_trace(go.Scatter(x=hours, y=tt, mode='lines+markers', name=name,
                             line=dict(color=col, width=1),
                             marker=dict(color=col, size=3, symbol='cross')))
for name, col, pp in zip(pert_names, pert_colors, pert_p):
    fig.add_trace(go.Scatter(x=hours[1:], y=pp, mode='lines+markers', yaxis='y2',
                             line=dict(color=col, width=1),
                             marker=dict(color=col, size=3, symbol='cross')))

fig.add_trace(go.Scatter(x=hours, y=ctrl_t, mode='lines', line=dict(color='#0000ff', width=3)))
fig.add_trace(go.Scatter(x=hours, y=gfs_t, mode='lines', line=dict(color='black', width=3)))
fig.add_trace(go.Scatter(x=hours, y=mean_t, mode='lines', line=dict(color='#ff0000', width=4)))
fig.add_trace(go.Scatter(x=hours[1:], y=ctrl_p, mode='lines', yaxis='y2',
                         line=dict(color='#0000ff', width=3)))
fig.add_trace(go.Scatter(x=hours[1:], y=gfs_p, mode='lines', yaxis='y2',
                         line=dict(color='black', width=3)))
fig.add_trace(go.Scatter(x=hours[1:], y=mean_p, mode='lines', yaxis='y2',
                         line=dict(color='#ff0000', width=4)))

# snow markers
snow_y = [t_at(589)] * len(snow_hours)
fig.add_trace(go.Scatter(x=snow_hours, y=snow_y, mode='markers',
                         marker=dict(size=10.5, color='#70c0f0', line=dict(color='#a0dcfa', width=1))))
fig.add_trace(go.Scatter(x=snow_hours, y=snow_y, mode='markers',
                         marker=dict(size=7, symbol='asterisk-open', line=dict(color='#c8f0ff', width=1))))

shapes = []
annotations = []

# zero double line
for yv in [0.22, -0.08]:
    shapes.append(dict(type='line', xref='x', yref='y', x0=0, x1=384, y0=yv, y1=yv,
                       line=dict(color='black', width=1)))

for h, p in zip(snow_hours, snow_pct):
    shapes.append(dict(type='rect', xref='x', yref='y', x0=h - 3.2, x1=h + 3.2,
                       y0=t_at(584), y1=t_at(573), fillcolor='#b8f6ff', line=dict(width=0),
                       layer='above'))
    annotations.append(dict(x=h, y=t_at(580.5), xref='x', yref='y', text=f'{p}%', showarrow=False,
                            textangle=-90, xanchor='center', yanchor='bottom',
                            font=dict(family=MONO, size=8, color='#0000ff', weight='bold')))

annotations.append(dict(x=6, y=t_at(514), xref='x', yref='y', text='Précipitations', showarrow=False,
                        xanchor='left', yanchor='middle', font=dict(family=MONO, size=10, color='black')))

def note(x, y, text, size=10, anchor='left', bold=False):
    f = dict(family=MONO, size=size, color='black')
    if bold:
        f['weight'] = 'bold'
    annotations.append(dict(x=px(x), y=py(y), xref='paper', yref='paper', text=text,
                            showarrow=False, xanchor=anchor, yanchor='middle', font=f))


note(23, 606, '(°C)', anchor='center')
note(712, 606, '(mm)', anchor='center')
note(75, 652, 'Moyenne des scénarios')
note(268, 637.5, 'Run de contrôle')
note(268, 648.5, 'Run GFS')
note(467, 653, '20 Perturbations', anchor='right')
note(30, 677, 'Diagramme des ensembles GEFS sur 384h : 52.1N 5.2E', size=11.5, bold=True)
note(30, 692, 'Température 2m (°C) , précipitations (mm)')
note(450, 672, 'Ensemble GEFS du 24/01/2012 - 06h')
note(450, 692, 'Copyright 2012 Meteociel.fr', size=11.5, bold=True)

for (x0, x1, yy, col) in [(35, 65, 652, '#ff0000'), (227, 259, 637, '#0000ff'), (227, 259, 647, 'black')]:
    shapes.append(dict(type='line', xref='paper', yref='paper', x0=px(x0), x1=px(x1),
                       y0=py(yy), y1=py(yy), line=dict(color=col, width=4)))

for k, (name, col) in enumerate(zip(pert_names, pert_colors)):
    x0 = 470.5 + 10.95 * k
    shapes.append(dict(type='rect', xref='paper', yref='paper', x0=px(x0), x1=px(x0 + 9.4),
                       y0=py(655.5), y1=py(649), fillcolor=col, line=dict(width=0)))
    annotations.append(dict(x=px(x0 + 4.7), y=py(642.5), xref='paper', yref='paper', text=name,
                            showarrow=False, xanchor='center', yanchor='middle',
                            font=dict(family=MONO, size=7, color='black', weight='bold')))

shapes.append(dict(type='rect', xref='paper', yref='paper', x0=px(20), x1=px(442),
                   y0=py(667), y1=py(699.5), line=dict(color='black', width=1)))

fig.update_layout(
    width=740, height=700,
    margin=dict(l=50, r=50, t=0, b=101),
    paper_bgcolor='white', plot_bgcolor='white',
    showlegend=False,
    shapes=shapes, annotations=annotations,
    xaxis=dict(range=[0, 384], tickvals=day_hours, ticktext=day_labels, tickangle=-90,
               showgrid=True, gridcolor='#c0c0c0', gridwidth=1, zeroline=False,
               showline=True, linecolor='black', linewidth=1, ticks='',
               ticklabelshift=7, ticklabelstandoff=0,
               tickfont=dict(family=MONO, size=9.5, color='black')),
    yaxis=dict(range=[t_at(599), t_at(0)], tickvals=[-35, -30, -25, -20, -15, -10, -5, 0, 5, 10,
                                                      15, 20, 25, 30, 35, 40],
               showgrid=True, gridcolor='#c0c0c0', gridwidth=1, zeroline=False,
               showline=True, linecolor='black', linewidth=1, ticks='', ticklabelstandoff=16,
               tickfont=dict(family='Liberation Sans', size=11, color='black')),
    yaxis2=dict(range=[t_at(599) + 35, t_at(0) + 35], overlaying='y', side='right',
                tickvals=[0, 5, 10, 15, 20, 25, 30, 35, 40, 45, 50, 55, 60, 65, 70, 75],
                showgrid=False, zeroline=False, showline=True, linecolor='black', linewidth=1,
                ticks='', ticklabelstandoff=14,
                tickfont=dict(family='Liberation Sans', size=11, color='black')),
)

# the page's default body margin would push the figure off by 8px
fig.write_html('out.html', config={'displayModeBar': False},
               post_script="document.body.style.margin='0';")
